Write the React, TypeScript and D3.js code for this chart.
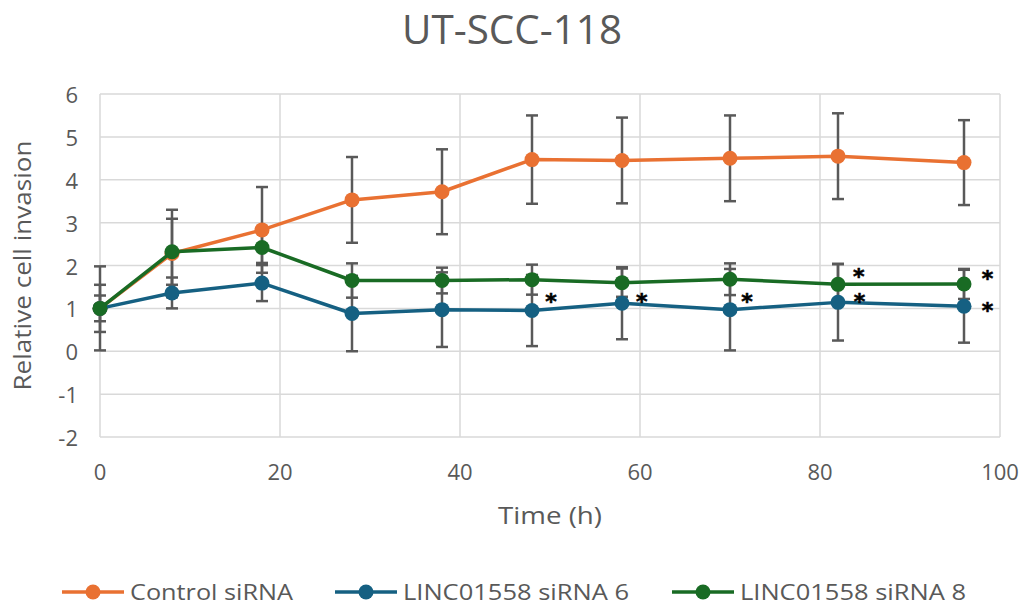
import React from "react";
import { scaleLinear, line, range } from "d3";

// time points (h)
const timePoints = [0, 8, 18, 28, 38, 48, 58, 70, 82, 96];

// relative cell invasion, mean and error
const controlValues = [1.0, 2.28, 2.83, 3.53, 3.72, 4.47, 4.45, 4.5, 4.55, 4.4];
const controlErrors = [0.98, 1.02, 1.0, 1.0, 0.99, 1.03, 1.0, 1.0, 1.0, 0.99];
const si6Values = [1.0, 1.36, 1.59, 0.88, 0.97, 0.95, 1.12, 0.97, 1.14, 1.05];
const si6Errors = [0.3, 0.36, 0.42, 0.88, 0.87, 0.83, 0.84, 0.95, 0.89, 0.85];
const si8Values = [1.0, 2.32, 2.42, 1.65, 1.65, 1.67, 1.6, 1.68, 1.56, 1.57];
const si8Errors = [0.55, 0.77, 0.36, 0.4, 0.3, 0.35, 0.33, 0.37, 0.48, 0.35];

const seriesNames = ["Control siRNA", "LINC01558 siRNA 6", "LINC01558 siRNA 8"];
const seriesColors = ["#E97132", "#156082", "#196B24"];

const xTicks = range(0, 101, 20);
const yTicks = range(-2, 7, 1);

// significance marks (time, value)
const starTimes = [50.1, 60.2, 71.9, 84.3, 84.4, 98.6, 98.6];
const starValues = [1.28, 1.28, 1.28, 1.87, 1.28, 1.83, 1.08];

export default function App() {
  const width = 1027;
  const height = 607;
  const left = 100;
  const right = 1000;
  const top = 94;
  const bottom = 437;

  const x = scaleLinear().domain([0, 100]).range([left, right]);
  const y = scaleLinear().domain([-2, 6]).range([bottom, top]);

  const series = [
    { name: seriesNames[0], color: seriesColors[0], values: controlValues, errors: controlErrors },
    { name: seriesNames[1], color: seriesColors[1], values: si6Values, errors: si6Errors },
    { name: seriesNames[2], color: seriesColors[2], values: si8Values, errors: si8Errors },
  ];

  const path = line<number>()
    .x((_, i) => x(timePoints[i]))
    .y((d) => y(d));

  const font = "'Open Sans', 'Liberation Sans', sans-serif";
  const grey = "#595959";

  // legend layout
  const legendY = 592;
  const legendStarts = [62, 335, 672];
  const legendTextWidths = [163, 226, 226];

  return (
    <svg
      width={width}
      height={height}
      style={{ position: "absolute", left: 0, top: 0, background: "#fff" }}
      fontFamily={font}
    >
      <rect width={width} height={height} fill="#fff" />

      {/* title */}
      <text
        x={512}
        y={28}
        textAnchor="middle"
        dominantBaseline="central"
        fontSize={40}
        fill={grey}
        textLength={220}
        lengthAdjust="spacingAndGlyphs"
      >
        UT-SCC-118
      </text>

      {/* gridlines */}
      {yTicks.map((t) => (
        <line key={"h" + t} x1={left} x2={right} y1={y(t)} y2={y(t)} stroke="#d9d9d9" strokeWidth={1.5} />
      ))}
      {xTicks.map((t) => (
        <line key={"v" + t} x1={x(t)} x2={x(t)} y1={top} y2={bottom} stroke="#d9d9d9" strokeWidth={1.5} />
      ))}

      {/* tick labels */}
      {yTicks.map((t) => (
        <text key={"yl" + t} x={78} y={y(t)} textAnchor="end" dominantBaseline="central" fontSize={22} fill={grey}>
          {t}
        </text>
      ))}
      {xTicks.map((t) => (
        <text key={"xl" + t} x={x(t)} y={471} textAnchor="middle" dominantBaseline="central" fontSize={22} fill={grey}>
          {t}
        </text>
      ))}

      {/* axis titles */}
      <text
        x={550}
        y={514}
        textAnchor="middle"
        dominantBaseline="central"
        fontSize={24}
        fill={grey}
        textLength={104}
        lengthAdjust="spacingAndGlyphs"
      >
        Time (h)
      </text>
      <text
        transform={`translate(22, ${(top + bottom) / 2}) rotate(-90)`}
        textAnchor="middle"
        dominantBaseline="central"
        fontSize={23}
        fill={grey}
        textLength={250}
        lengthAdjust="spacingAndGlyphs"
      >
        Relative cell invasion
      </text>

      {/* error bars under everything */}
      {series.map((s) =>
        s.values.map((v, i) => {
          const cx = x(timePoints[i]);
          const y1 = y(v + s.errors[i]);
          const y2 = y(v - s.errors[i]);
          return (
            <g key={s.name + "e" + i} stroke={grey} strokeWidth={2.5}>
              <line x1={cx} x2={cx} y1={y1} y2={y2} />
              <line x1={cx - 6} x2={cx + 6} y1={y1} y2={y1} />
              <line x1={cx - 6} x2={cx + 6} y1={y2} y2={y2} />
            </g>
          );
        })
      )}

      {/* lines + markers */}
      {series.map((s) => (
        <g key={s.name}>
          <path d={path(s.values) || ""} fill="none" stroke={s.color} strokeWidth={3.5} strokeLinejoin="round" />
          {s.values.map((v, i) => (
            <circle key={i} cx={x(timePoints[i])} cy={y(v)} r={7.5} fill={s.color} />
          ))}
        </g>
      ))}

      {/* significance stars */}
      {starTimes.map((t, i) => (
        <text
          key={"s" + i}
          x={x(t)}
          y={y(starValues[i])}
          dy={13}
          textAnchor="middle"
          fontSize={22}
          fontWeight="bold"
          fontFamily="'DejaVu Sans', sans-serif"
          fill="#000"
          stroke="#000"
          strokeWidth={0.6}
        >
          *
        </text>
      ))}

      {/* legend */}
      {series.map((s, i) => {
        const x0 = legendStarts[i];
        return (
          <g key={"lg" + i}>
            <line x1={x0} x2={x0 + 62} y1={legendY} y2={legendY} stroke={s.color} strokeWidth={3.5} />
            <circle cx={x0 + 31} cy={legendY} r={7.5} fill={s.color} />
            <text
              x={x0 + 68}
              y={legendY}
              dominantBaseline="central"
              fontSize={21}
              fill={grey}
              textLength={legendTextWidths[i]}
              lengthAdjust="spacingAndGlyphs"
            >
              {s.name}
            </text>
          </g>
        );
      })}
    </svg>
  );
}
